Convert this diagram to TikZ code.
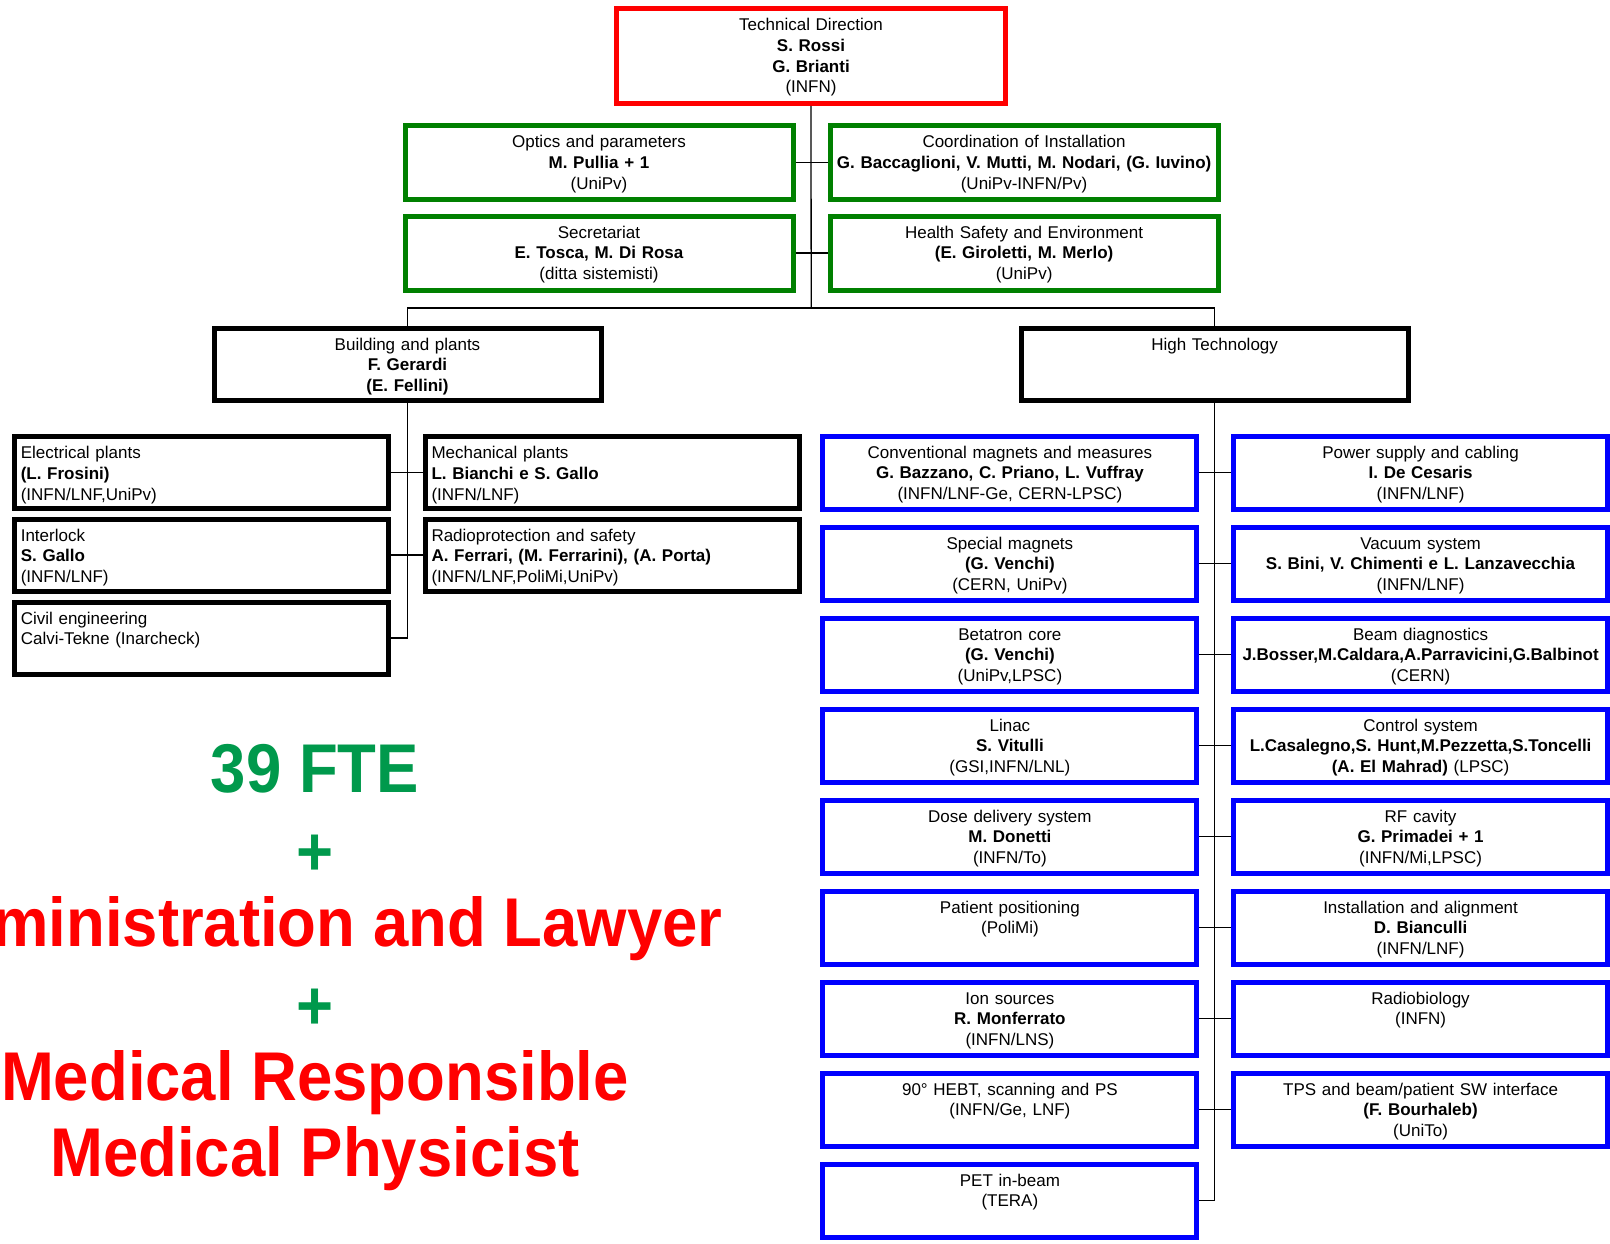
\documentclass[tikz,border=0pt]{standalone}
\usepackage{fontspec}
\setmainfont{Liberation Sans}
\newfontfamily\bigfont[FakeStretch=0.92]{Liberation Sans}
\usepackage{tikz}
\definecolor{staffgreen}{RGB}{0,128,0}
\definecolor{ftegreen}{RGB}{0,153,76}
\tikzstyle{unit}      = [draw, line width=5pt, inner xsep=2pt, inner ysep=0pt, anchor=north west, align=center, text height=22pt, font=\fontsize{17}{20.8}\selectfont]
\tikzstyle{headbox}   = [unit, draw=red, text width=385pt, text depth=73pt]
\tikzstyle{staffbox}  = [unit, draw=staffgreen, text width=384pt, text depth=52pt]
\tikzstyle{areabox}   = [unit, draw=black, text width=383pt, text depth=50pt]
\tikzstyle{plantbox}  = [unit, draw=black, align=left, inner xsep=6pt, text width=362pt, text depth=50pt]
\tikzstyle{techbox}   = [unit, draw=blue, text width=370pt, text depth=51pt]
\tikzstyle{link}      = [line width=1.3pt]
\tikzstyle{bigtext}   = [font=\bigfont\bfseries\fontsize{69}{80}\selectfont, inner sep=0pt, anchor=base]

\begin{document}
\begin{tikzpicture}[x=1pt,y=-1pt]
           \useasboundingbox (0,0) rectangle (1610,1244);
           % direction and staff
           \node[headbox](td)at(614, 6){Technical Direction\\\textbf{S. Rossi}\\\textbf{G. Brianti}\\(INFN)};
           \node[staffbox](op)at(402.5, 123.2){Optics and parameters\\\textbf{M. Pullia + 1}\\(UniPv)};
           \node[staffbox](ci)at(827.6, 123.2){Coordination of Installation\\\textbf{G. Baccaglioni, V. Mutti, M. Nodari, (G. Iuvino)}\\(UniPv-INFN/Pv)};
           \node[staffbox](se)at(402.5, 213.6){Secretariat\\\textbf{E. Tosca, M. Di Rosa}\\(ditta sistemisti)};
           \node[staffbox](hs)at(827.6, 213.6){Health Safety and Environment\\\textbf{(E. Giroletti, M. Merlo)}\\(UniPv)};
           \coordinate(bar)at(811.2, 308);
           \draw[link](td.south)--(bar);
           \draw[link](op.east)--(ci.west);
           \draw[link](se.east)--(hs.west);
           % the two areas
           \node[areabox](bp)at(211.5, 325.5){Building and plants\\\textbf{F. Gerardi}\\\textbf{(E. Fellini)}};
           \node[areabox](ht)at(1018.6, 325.5){High Technology};
           \draw[link](bp.north)|-(bar)-|(ht.north);
           % building and plants
           \node[plantbox](ep)at(12.3, 434.3){Electrical plants\\\textbf{(L. Frosini)}\\(INFN/LNF,UniPv)};
           \node[plantbox](il)at(12.3, 516.5){Interlock\\\textbf{S. Gallo}\\(INFN/LNF)};
           \node[plantbox](ce)at(12.3, 599.6){Civil engineering\\Calvi-Tekne (Inarcheck)};
           \node[plantbox](mp)at(423, 434.3){Mechanical plants\\\textbf{L. Bianchi e S. Gallo}\\(INFN/LNF)};
           \node[plantbox](rs)at(423, 516.5){Radioprotection and safety\\\textbf{A. Ferrari, (M. Ferrarini), (A. Porta)}\\(INFN/LNF,PoliMi,UniPv)};
           \draw[link](bp.south)|-(ce.east);
           \draw[link](ep.east)--(mp.west);
           \draw[link](il.east)--(rs.west);
           % high technology
           \node[techbox](cm)at(820.4, 433.5){Conventional magnets and measures\\\textbf{G. Bazzano, C. Priano, L. Vuffray}\\(INFN/LNF-Ge, CERN-LPSC)};
           \node[techbox](sm)at(820.4, 524.5){Special magnets\\\textbf{(G. Venchi)}\\(CERN, UniPv)};
           \node[techbox](bc)at(820.4, 615.5){Betatron core\\\textbf{(G. Venchi)}\\(UniPv,LPSC)};
           \node[techbox](li)at(820.4, 706.5){Linac\\\textbf{S. Vitulli}\\(GSI,INFN/LNL)};
           \node[techbox](dd)at(820.4, 797.5){Dose delivery system\\\textbf{M. Donetti}\\(INFN/To)};
           \node[techbox](pp)at(820.4, 888.5){Patient positioning\\(PoliMi)};
           \node[techbox](is)at(820.4, 979.5){Ion sources\\\textbf{R. Monferrato}\\(INFN/LNS)};
           \node[techbox](hb)at(820.4, 1070.5){90° HEBT, scanning and PS\\(INFN/Ge, LNF)};
           \node[techbox](pb)at(820.4, 1161.5){PET in-beam\\(TERA)};
           \node[techbox](ps)at(1231.1, 433.5){Power supply and cabling\\\textbf{I. De Cesaris}\\(INFN/LNF)};
           \node[techbox](vs)at(1231.1, 524.5){Vacuum system\\\textbf{S. Bini, V. Chimenti e L. Lanzavecchia}\\(INFN/LNF)};
           \node[techbox](bd)at(1231.1, 615.5){Beam diagnostics\\\textbf{J.Bosser,M.Caldara,A.Parravicini,G.Balbinot}\\(CERN)};
           \node[techbox](cs)at(1231.1, 706.5){Control system\\\textbf{L.Casalegno,S. Hunt,M.Pezzetta,S.Toncelli}\\\textbf{(A. El Mahrad)} (LPSC)};
           \node[techbox](rf)at(1231.1, 797.5){RF cavity\\\textbf{G. Primadei + 1}\\(INFN/Mi,LPSC)};
           \node[techbox](ia)at(1231.1, 888.5){Installation and alignment\\\textbf{D. Bianculli}\\(INFN/LNF)};
           \node[techbox](rb)at(1231.1, 979.5){Radiobiology\\(INFN)};
           \node[techbox](tp)at(1231.1, 1070.5){TPS and beam/patient SW interface\\\textbf{(F. Bourhaleb)}\\(UniTo)};
           \draw[link](ht.south)|-(pb.east);
           \draw[link](cm.east)--(ps.west);
           \draw[link](sm.east)--(vs.west);
           \draw[link](bc.east)--(bd.west);
           \draw[link](li.east)--(cs.west);
           \draw[link](dd.east)--(rf.west);
           \draw[link](pp.east)--(ia.west);
           \draw[link](is.east)--(rb.west);
           \draw[link](hb.east)--(tp.west);
           % staff totals
           \node[bigtext, text=ftegreen](fte)at(315, 792.7){39 FTE};
           \node[bigtext, text=ftegreen](p1)at(315, 875){+};
           \node[bigtext, text=red](adm)at(315, 946.7){Administration and Lawyer};
           \node[bigtext, text=ftegreen](p2)at(315, 1029){+};
           \node[bigtext, text=red](mr)at(315, 1100.7){Medical Responsible};
           \node[bigtext, text=red](mph)at(315, 1176.8){Medical Physicist};
\end{tikzpicture}
\end{document}
